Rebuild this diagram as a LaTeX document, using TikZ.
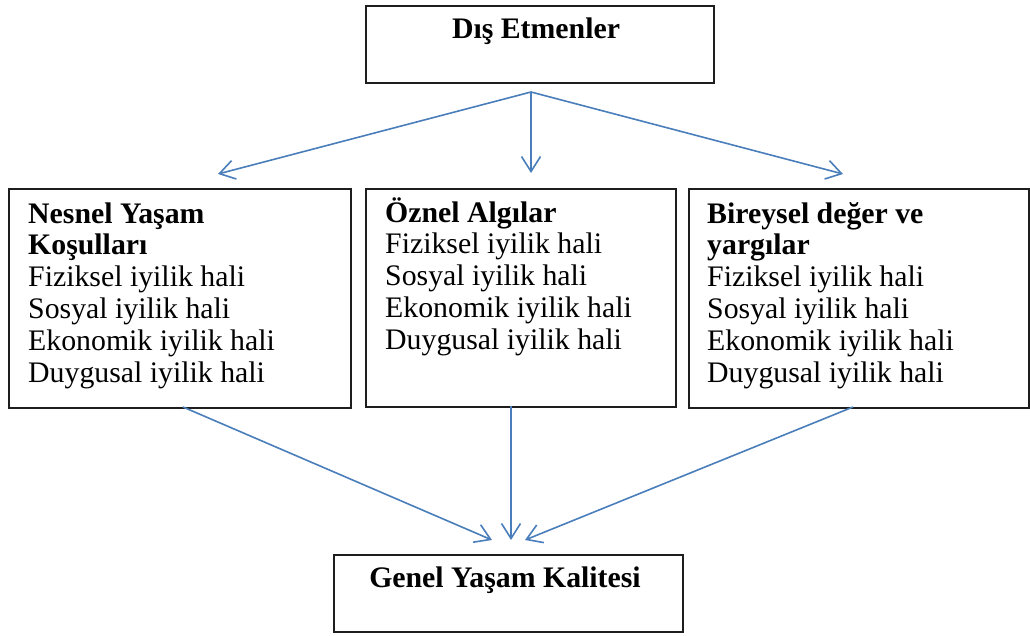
\documentclass[tikz,border=0pt]{standalone}
\usepackage{fontspec}
\setmainfont{Liberation Serif}
\usetikzlibrary{arrows.meta}
\definecolor{arrowblue}{HTML}{4A7EBB}
\definecolor{boxline}{HTML}{1E1E1E}
\begin{document}
\begin{tikzpicture}[x=1pt,y=-1pt,
  box/.style={draw=boxline, line width=1.9pt, inner sep=0pt, anchor=north west},
  txt/.style={inner sep=0pt, font=\fontsize{29.8}{31.8}\selectfont},
  lines/.style={txt, anchor=base west},
  flow/.style={draw=arrowblue, line width=1.6pt,
    -{Straight Barb[length=15pt,width=19pt,line width=1.6pt]}}]
\useasboundingbox (0,0) rectangle (1030,635);

% boxes
\node[box, minimum width=348pt, minimum height=77pt]  (dis)    at (365,5)   {};
\node[box, minimum width=342pt, minimum height=219pt] (nesnel) at (8,188)   {};
\node[box, minimum width=310pt, minimum height=218pt] (oznel)  at (365,188) {};
\node[box, minimum width=340pt, minimum height=219pt] (birey)  at (688,188) {};
\node[box, minimum width=349pt, minimum height=77pt]  (genel)  at (333,554) {};

% texts
\node[txt, anchor=base] (dis-t) at (536,38) {\textbf{Dış Etmenler}};
\node[txt, anchor=base] (genel-t) at (505,587) {\textbf{Genel Yaşam Kalitesi}};

\node[lines] (nesnel-t) at (28,223) {\begin{tabular}[t]{@{}l@{}}
  \textbf{Nesnel Yaşam}\\ \textbf{Koşulları}\\ Fiziksel iyilik hali\\
  Sosyal iyilik hali\\ Ekonomik iyilik hali\\ Duygusal iyilik hali\end{tabular}};
\node[lines] (oznel-t) at (385,222) {\begin{tabular}[t]{@{}l@{}}
  \textbf{Öznel Algılar}\\ Fiziksel iyilik hali\\
  Sosyal iyilik hali\\ Ekonomik iyilik hali\\ Duygusal iyilik hali\end{tabular}};
\node[lines] (birey-t) at (707,223) {\begin{tabular}[t]{@{}l@{}}
  \textbf{Bireysel değer ve}\\ \textbf{yargılar}\\ Fiziksel iyilik hali\\
  Sosyal iyilik hali\\ Ekonomik iyilik hali\\ Duygusal iyilik hali\end{tabular}};

% connector end points
\coordinate (fork)       at (531,92);
\coordinate (nesnel-in)  at (218,174);
\coordinate (oznel-in)   at (531,173);
\coordinate (birey-in)   at (843,174);
\coordinate (nesnel-out) at (183,407);
\coordinate (oznel-out)  at (511,406);
\coordinate (birey-out)  at (853,407);
\coordinate (genel-l)    at (492,540);
\coordinate (genel-m)    at (511,540);
\coordinate (genel-r)    at (525,540);

% connectors
\draw[flow] (fork) -- (nesnel-in);
\draw[flow] (fork) -- (oznel-in);
\draw[flow] (fork) -- (birey-in);
\draw[flow] (nesnel-out) -- (genel-l);
\draw[flow] (oznel-out)  -- (genel-m);
\draw[flow] (birey-out)  -- (genel-r);
\end{tikzpicture}
\end{document}
